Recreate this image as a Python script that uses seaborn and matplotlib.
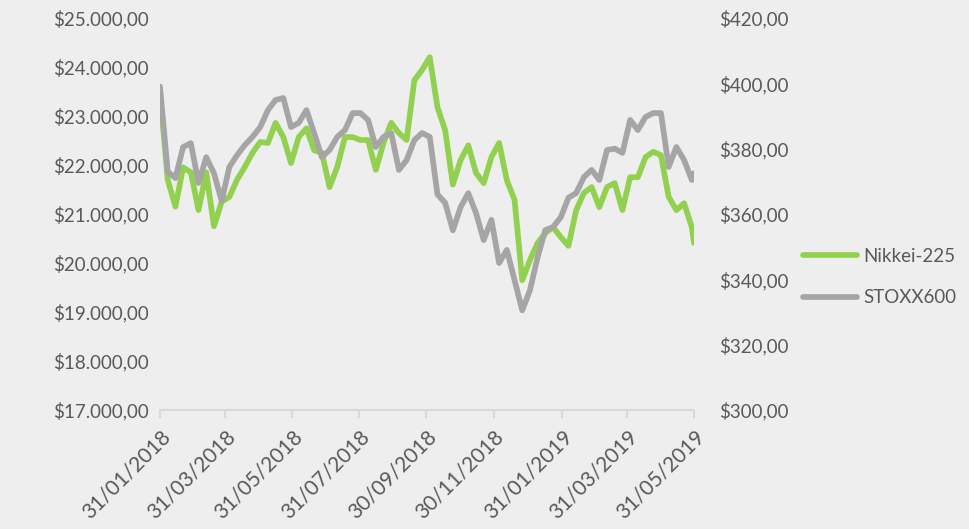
import pandas as pd
import matplotlib
matplotlib.use("Agg")
import matplotlib.pyplot as plt
from matplotlib.ticker import FuncFormatter
import seaborn as sns

# weekly readings from 31/01/2018, plus the last day 31/05/2019
dates = list(pd.date_range("2018-01-31", periods=70, freq="7D")) + [pd.Timestamp("2019-05-31")]

nikkei = [23490, 21700, 21150, 21950, 21850, 21080, 21850, 20750, 21250, 21350,
          21700, 21960, 22250, 22470, 22450, 22860, 22570, 22040, 22570, 22750,
          22300, 22250, 21550, 21960, 22570, 22570, 22510, 22510, 21900, 22450,
          22860, 22650, 22510, 23730, 23940, 24200, 23180, 22710, 21600, 22100,
          22400, 21840, 21630, 22160, 22450, 21690, 21290, 19650, 20060, 20410,
          20610, 20730, 20530, 20350, 21080, 21430, 21550, 21140, 21550, 21630,
          21080, 21750, 21750, 22160, 22270, 22200, 21350, 21080, 21220, 20730,
          20410]

stoxx = [399.0, 373.0, 371.0, 380.5, 381.7, 369.5, 377.4, 372.5, 364.0, 374.4,
         378.0, 381.1, 383.6, 386.6, 391.8, 394.9, 395.5, 386.6, 387.9, 391.8,
         384.8, 377.4, 379.6, 383.6, 385.7, 390.9, 390.9, 388.8, 380.5, 383.6,
         384.8, 373.5, 376.5, 382.6, 384.8, 383.6, 366.0, 363.4, 355.0, 362.1,
         366.4, 360.3, 352.0, 358.2, 345.0, 349.0, 339.8, 330.5, 336.7, 346.8,
         355.1, 356.0, 359.0, 365.0, 366.4, 371.3, 373.5, 370.4, 379.6, 380.0,
         378.7, 388.8, 385.7, 389.7, 390.9, 390.9, 374.4, 380.5, 376.5, 370.4,
         372.5]

tick_dates = ["2018-01-31", "2018-03-31", "2018-05-31", "2018-07-31", "2018-09-30",
              "2018-11-30", "2019-01-31", "2019-03-31", "2019-05-31"]

df = pd.DataFrame({"date": dates, "nikkei": nikkei, "stoxx": stoxx})

bg = "#EEEEEE"
txt = "#595959"
green = "#92D050"
grey = "#A5A5A5"

sns.set_theme(style="white")
plt.rcParams["font.family"] = ["Lato", "DejaVu Sans"]

fig = plt.figure(figsize=(9.7, 5.29), dpi=100, facecolor=bg)
ax = fig.add_axes([160/970, 1-410/529, 534/970, 392/529])
ax.set_facecolor(bg)

sns.lineplot(data=df, x="date", y="nikkei", ax=ax, color=green, lw=4.1,
             solid_capstyle="round", solid_joinstyle="round", label="Nikkei-225", legend=False)
ax2 = ax.twinx()
sns.lineplot(data=df, x="date", y="stoxx", ax=ax2, color=grey, lw=4.1,
             solid_capstyle="round", solid_joinstyle="round", label="STOXX600", legend=False)

ax.set_xlim(pd.Timestamp("2018-01-31"), pd.Timestamp("2019-05-31"))
ax.set_ylim(17000, 25000)
ax2.set_ylim(300, 420)
ax.set_yticks(range(17000, 25001, 1000))
ax2.set_yticks(range(300, 421, 20))

def money(v):
    s = f"${v:,.2f}"
    return s.replace(",", "X").replace(".", ",").replace("X", ".")

ax.yaxis.set_major_formatter(FuncFormatter(lambda v, p: money(v)))
ax2.yaxis.set_major_formatter(FuncFormatter(lambda v, p: money(v)))

tds = pd.to_datetime(tick_dates)
ax.set_xticks(tds)
ax.set_xticklabels([d.strftime("%d/%m/%Y") for d in tds], rotation=45,
                   ha="right", rotation_mode="anchor")

for a in (ax, ax2):
    a.set_xlabel("")
    a.set_ylabel("")
    for s in a.spines.values():
        s.set_visible(False)
ax.spines["bottom"].set_visible(True)
ax.spines["bottom"].set_color("#D9D9D9")
ax.spines["bottom"].set_linewidth(1.5)

ax.tick_params(axis="x", length=6, width=1.5, color="#D9D9D9", direction="out",
               labelsize=15, labelcolor=txt, pad=6, bottom=True)
ax.tick_params(axis="y", length=0, labelsize=13.5, labelcolor=txt, pad=8)
ax2.tick_params(axis="y", length=0, labelsize=13.5, labelcolor=txt, pad=18)

h1, l1 = ax.get_legend_handles_labels()
h2, l2 = ax2.get_legend_handles_labels()
fig.legend(h1 + h2, l1 + l2, loc="center left", bbox_to_anchor=(803/970, 1-277/529),
           frameon=False, fontsize=13.5, labelcolor=txt, handlelength=2.9,
           handletextpad=0.3, labelspacing=1.3, borderpad=0, borderaxespad=0)

fig.savefig("out.png", dpi=100, facecolor=bg)
